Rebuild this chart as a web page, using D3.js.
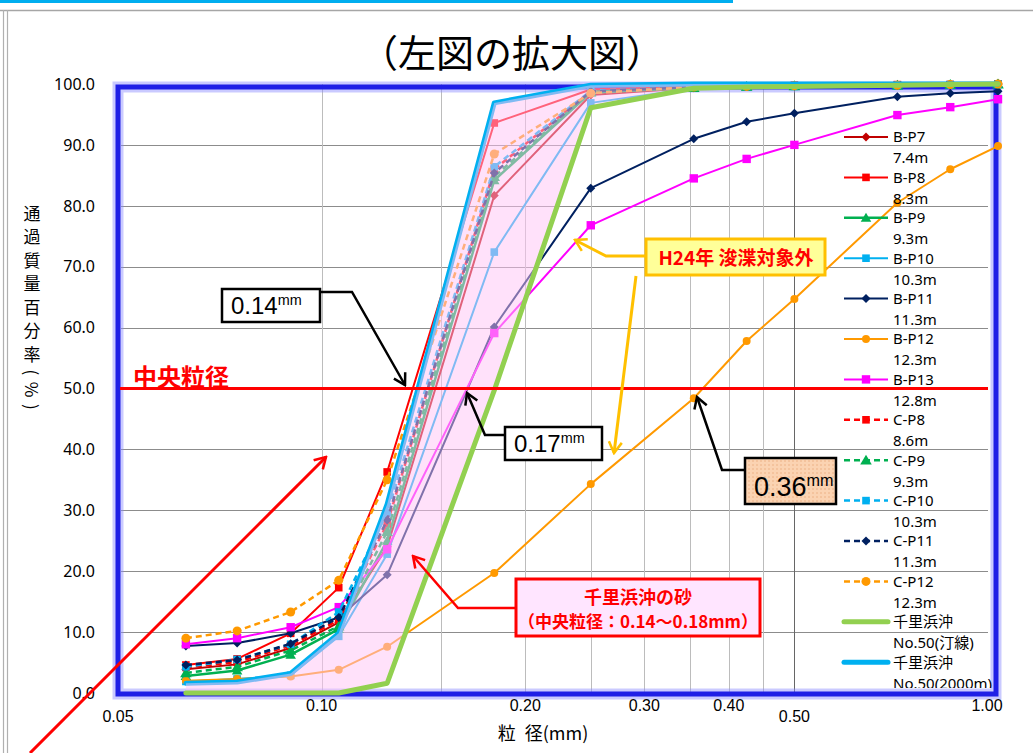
<!DOCTYPE html>
<html>
<head>
<meta charset="utf-8">
<script src="https://cdn.jsdelivr.net/npm/d3@7"></script>
<style>
  body { margin: 0; background: #fff; }
  svg { display: block; }
</style>
</head>
<body>
<svg id="chart" width="1033" height="753"></svg>
<script>
// Sieve sizes (mm) at which passing percentages were measured
const sieveSizes = [0.063, 0.075, 0.09, 0.106, 0.125, 0.18, 0.25, 0.355, 0.425, 0.5, 0.71, 0.85, 1.0];

// Percent passing by mass for each sample
const bP7  = [3.9, 4.7, 7.4, 11.6, 24.0, 81.7, 98.2, 99.4, 99.6, 99.7, 99.8, 99.9, 100];
const bP8  = [4.6, 5.6, 9.8, 17.3, 36.3, 93.6, 99.1, 99.6, 99.7, 99.8, 99.9, 99.9, 100];
const bP9  = [2.8, 3.7, 6.3, 10.5, 25.0, 84.2, 98.6, 99.4, 99.6, 99.7, 99.8, 99.9, 100];
const bP10 = [1.9, 2.3, 2.9, 9.3, 22.8, 72.4, 96.9, 99.3, 99.5, 99.6, 99.7, 99.8, 100];
const bP11 = [7.7, 8.2, 9.8, 12.4, 19.4, 60.1, 82.9, 91.0, 93.8, 95.2, 97.9, 98.5, 98.8];
const bP12 = [2.0, 2.3, 2.7, 3.8, 7.6, 19.7, 34.3, 48.4, 57.8, 64.7, 80.5, 86.0, 89.8];
const bP13 = [8.0, 9.0, 10.8, 14.1, 23.6, 59.1, 76.8, 84.5, 87.7, 90.0, 94.9, 96.2, 97.5];
const cP8  = [4.2, 5.1, 7.8, 12.0, 27.8, 86.0, 98.8, 99.5, 99.6, 99.7, 99.8, 99.9, 100];
const cP9  = [3.3, 4.3, 7.0, 11.0, 26.5, 84.8, 98.7, 99.4, 99.6, 99.7, 99.8, 99.9, 100];
const cP10 = [4.3, 5.5, 8.0, 13.3, 29.6, 86.4, 98.9, 99.5, 99.6, 99.7, 99.8, 99.9, 100];
const cP11 = [4.6, 5.4, 8.1, 12.4, 28.4, 85.4, 98.8, 99.5, 99.6, 99.7, 99.8, 99.9, 100];
const cP12 = [9.0, 10.2, 13.3, 18.5, 35.0, 88.5, 98.5, 99.5, 99.6, 99.7, 99.8, 99.9, 100];
const chiriShore = [0, 0, 0, 0, 1.6, 49.7, 96.1, 99.3, 99.5, 99.6, 99.8, 99.9, 100];
const chiri2000  = [1.6, 1.8, 3.2, 9.8, 31.0, 96.9, 99.8, 100, 100, 100, 100, 100, 100];

const seriesNames = ['B-P7','B-P8','B-P9','B-P10','B-P11','B-P12','B-P13',
                     'C-P8','C-P9','C-P10','C-P11','C-P12','千里浜沖','千里浜沖'];
const depthLabels = ['7.4m','8.3m','9.3m','10.3m','11.3m','12.3m','12.8m',
                     '8.6m','9.3m','10.3m','11.3m','12.3m','No.50(汀線)','No.50(2000m)'];

// Axis ticks
const yTicks = [0, 10, 20, 30, 40, 50, 60, 70, 80, 90, 100];
const xTickValues = [0.05, 0.1, 0.2, 0.3, 0.4, 0.5, 1.0];
const xTicksLowRow = [0.05, 0.5];
const xGridValues = [0.1, 0.15, 0.2, 0.25, 0.3, 0.35, 0.4, 0.45];
const xMajorGrid = [0.5];
const medianLevel = 50;

const svg = d3.select('#chart');
const LATIN = '"Noto Sans", "Noto Sans CJK JP", sans-serif';
const CJK = '"Noto Sans CJK JP", "Noto Sans", sans-serif';

const x = d3.scaleLog().domain([0.05, 1.0]).range([118, 998]);
const y = d3.scaleLinear().domain([0, 100]).range([693, 84]);

// ---- page frame ----
svg.append('rect').attr('x', 0).attr('y', 0).attr('width', 733).attr('height', 3).attr('fill', '#00AEEF');
svg.append('line').attr('x1', 0).attr('x2', 1033).attr('y1', 10.5).attr('y2', 10.5).attr('stroke', '#a6a6a6').attr('stroke-width', 1.5);
[3.5, 7.5].forEach(px => svg.append('line').attr('x1', px).attr('x2', px).attr('y1', 10).attr('y2', 753)
  .attr('stroke', '#b0b0b0').attr('stroke-width', 1.2));

// ---- title ----
svg.append('text').attr('x', 512).attr('y', 67).attr('text-anchor', 'middle')
  .attr('font-family', CJK).attr('font-size', 38).attr('fill', '#000')
  .text('（左図の拡大図）');

// ---- grid ----
const grid = svg.append('g');
grid.selectAll('line.h').data(yTicks.filter(v => v > 0 && v < 100)).enter().append('line')
  .attr('x1', 121).attr('x2', 988).attr('y1', d => Math.round(y(d)) + 0.5).attr('y2', d => Math.round(y(d)) + 0.5)
  .attr('stroke', '#8c8c8c').attr('stroke-width', 1);
grid.selectAll('line.v').data(xGridValues).enter().append('line')
  .attr('y1', y(100)).attr('y2', y(0)).attr('x1', d => Math.round(x(d)) + 0.5).attr('x2', d => Math.round(x(d)) + 0.5)
  .attr('stroke', '#bcbcbc').attr('stroke-width', 1);
grid.selectAll('line.vm').data(xMajorGrid).enter().append('line')
  .attr('y1', y(100)).attr('y2', y(0)).attr('x1', d => Math.round(x(d)) + 0.5).attr('x2', d => Math.round(x(d)) + 0.5)
  .attr('stroke', '#666').attr('stroke-width', 1);

// ---- plot border ----
svg.append('rect').attr('x', 118).attr('y', 87).attr('width', 878).attr('height', 607)
  .attr('fill', 'none').attr('stroke', '#8a8aff').attr('stroke-width', 11).attr('opacity', 0.45);
svg.append('rect').attr('x', 118).attr('y', 87).attr('width', 878).attr('height', 607)
  .attr('fill', 'none').attr('stroke', '#1f1fe6').attr('stroke-width', 5);

// ---- y tick labels ----
svg.append('g').selectAll('text').data(yTicks).enter().append('text')
  .attr('x', 95).attr('y', d => y(d)).attr('dy', '0.36em').attr('text-anchor', 'end')
  .attr('font-family', LATIN).attr('font-size', 16).attr('fill', '#000')
  .text(d => d3.format('.1f')(d));

// ---- x tick labels ----
svg.append('g').selectAll('text').data(xTickValues).enter().append('text')
  .attr('x', d => d === 1.0 ? x(d) - 11 : x(d))
  .attr('y', d => xTicksLowRow.includes(d) ? 722 : 711)
  .attr('text-anchor', 'middle')
  .attr('font-family', '"Liberation Sans Narrow", "Liberation Sans", sans-serif')
  .attr('font-size', 16).attr('fill', '#000')
  .text(d => d3.format('.2f')(d));

// ---- axis titles ----
svg.append('text').attr('x', 543).attr('y', 740).attr('text-anchor', 'middle')
  .attr('font-family', CJK).attr('font-size', 18).attr('fill', '#000')
  .text('粒\u2002径(mm)');
svg.append('text').attr('x', 32).attr('y', 205)
  .style('writing-mode', 'vertical-rl')
  .attr('font-family', CJK).attr('font-size', 17).attr('letter-spacing', 6.5).attr('fill', '#000')
  .text('通過質量百分率(%)');

// ---- series ----
const symbolPath = (type, r) => {
  if (type === 'diamond') return `M0,${-r}L${r},0L0,${r}L${-r},0Z`;
  if (type === 'square') return `M${-r},${-r}H${r}V${r}H${-r}Z`;
  if (type === 'triangle') return `M0,${-r}L${r * 1.05},${r * 0.8}L${-r * 1.05},${r * 0.8}Z`;
  if (type === 'circle') return `M${r},0A${r},${r} 0 1,1 ${-r},0A${r},${r} 0 1,1 ${r},0Z`;
  return null;
};

const series = [
  { values: bP7,  color: '#C00000', dash: null,  marker: 'diamond',  r: 4.5, width: 2 },
  { values: bP8,  color: '#FF0000', dash: null,  marker: 'square',   r: 3.8, width: 2 },
  { values: bP9,  color: '#00B050', dash: null,  marker: 'triangle', r: 5,   width: 2.5 },
  { values: bP10, color: '#00B0F0', dash: null,  marker: 'square',   r: 3.8, width: 2 },
  { values: bP11, color: '#002060', dash: null,  marker: 'diamond',  r: 4.5, width: 2 },
  { values: bP12, color: '#FF9900', dash: null,  marker: 'circle',   r: 4,   width: 2 },
  { values: bP13, color: '#FF00FF', dash: null,  marker: 'square',   r: 4.2, width: 2 },
  { values: cP8,  color: '#FF0000', dash: '6,4', marker: 'square',   r: 3.8, width: 2.5 },
  { values: cP9,  color: '#00B050', dash: '6,4', marker: 'triangle', r: 5.5, width: 2.5 },
  { values: cP10, color: '#00B0F0', dash: '6,4', marker: 'square',   r: 3.8, width: 2.5 },
  { values: cP11, color: '#002060', dash: '6,4', marker: 'diamond',  r: 4.5, width: 2.5 },
  { values: cP12, color: '#FF9900', dash: '6,4', marker: 'circle',   r: 4.5, width: 2.5 },
  { values: chiriShore, color: '#92D050', dash: null, marker: null, r: 0, width: 5 },
  { values: chiri2000,  color: '#00B0F0', dash: null, marker: null, r: 0, width: 5 }
].map((s, i) => Object.assign(s, { name: seriesNames[i], depth: depthLabels[i] }));

const line = d3.line().x((d, i) => x(sieveSizes[i])).y(d => y(d));

function drawSeries(g, s) {
  g.append('path').attr('d', line(s.values)).attr('fill', 'none')
    .attr('stroke', s.color).attr('stroke-width', s.width)
    .attr('stroke-dasharray', s.dash).attr('stroke-linejoin', 'round')
    .attr('stroke-linecap', s.marker ? 'butt' : 'round');
  if (s.marker) {
    g.selectAll(null).data(s.values).enter().append('path')
      .attr('transform', (d, i) => `translate(${x(sieveSizes[i])},${y(d)})`)
      .attr('d', symbolPath(s.marker, s.r)).attr('fill', s.color);
  }
}

const plot = svg.append('g');
series.forEach((s, i) => { if (i !== 12) drawSeries(plot, s); });

// Shaded band of the Chirihama offshore sand: between the 2000m and shoreline curves
const bandTop = chiri2000.map((v, i) => [x(sieveSizes[i]), y(v)]);
const bandBottom = chiriShore.map((v, i) => [x(sieveSizes[i]), y(v)]).reverse();
plot.append('path').attr('d', d3.line()(bandTop.concat(bandBottom)) + 'Z')
  .attr('fill', '#FFC4F6').attr('opacity', 0.5);
drawSeries(plot, series[12]);

// ---- median line ----
svg.append('line').attr('x1', 120).attr('x2', 988).attr('y1', y(medianLevel)).attr('y2', y(medianLevel))
  .attr('stroke', '#FF0000').attr('stroke-width', 3);
svg.append('text').attr('x', 133).attr('y', 386).attr('font-family', CJK).attr('font-weight', 'bold')
  .attr('font-size', 24).attr('fill', '#FF0000').text('中央粒径');

// ---- legend ----
const defs = svg.append('defs');
defs.append('clipPath').attr('id', 'legendClip').append('rect')
  .attr('x', 830).attr('y', 90).attr('width', 165).attr('height', 598);
const legend = svg.append('g').attr('clip-path', 'url(#legendClip)');
series.forEach((s, i) => {
  const cy = 137 + i * 40.4;
  const g = legend.append('g');
  g.append('line').attr('x1', 844).attr('x2', 888).attr('y1', cy).attr('y2', cy)
    .attr('stroke', s.color).attr('stroke-width', s.width)
    .attr('stroke-dasharray', s.dash).attr('stroke-linecap', s.marker ? 'butt' : 'round');
  if (s.marker) {
    g.append('path').attr('transform', `translate(866,${cy})`)
      .attr('d', symbolPath(s.marker, s.r)).attr('fill', s.color);
  }
  g.append('text').attr('x', 893).attr('y', cy).attr('dy', '0.36em')
    .attr('font-family', LATIN).attr('font-size', 15).attr('fill', '#000').text(s.name);
  g.append('text').attr('x', 893).attr('y', cy + 21).attr('dy', '0.36em')
    .attr('font-family', LATIN).attr('font-size', 15).attr('fill', '#000').text(s.depth);
});

// ---- annotations ----
function arrowMarker(id, color) {
  defs.append('marker').attr('id', id).attr('viewBox', '-12 -8 14 16')
    .attr('refX', 0).attr('refY', 0).attr('markerWidth', 14).attr('markerHeight', 16)
    .attr('markerUnits', 'userSpaceOnUse').attr('orient', 'auto')
    .append('path').attr('d', 'M-11,-6.5L0,0L-11,6.5').attr('fill', 'none')
    .attr('stroke', color).attr('stroke-width', 2.5).attr('stroke-linejoin', 'miter');
}
arrowMarker('arrBlack', '#000');
arrowMarker('arrRed', '#FF0000');
arrowMarker('arrGold', '#FFC000');

const dots = defs.append('pattern').attr('id', 'dots').attr('width', 4).attr('height', 4)
  .attr('patternUnits', 'userSpaceOnUse');
dots.append('rect').attr('width', 4).attr('height', 4).attr('fill', '#FBD3B2');
dots.append('circle').attr('cx', 1).attr('cy', 1).attr('r', 0.7).attr('fill', '#E9A877');

const ann = svg.append('g');

// diagonal red arrow
ann.append('path').attr('d', 'M30,753L326,457').attr('stroke', '#FF0000').attr('stroke-width', 3)
  .attr('fill', 'none').attr('marker-end', 'url(#arrRed)');

function valueBox(bx, by, bw, bh, label, size, fill, leader) {
  ann.append('path').attr('d', leader).attr('fill', 'none').attr('stroke', '#000')
    .attr('stroke-width', 2.5).attr('marker-end', 'url(#arrBlack)');
  ann.append('rect').attr('x', bx).attr('y', by).attr('width', bw).attr('height', bh)
    .attr('fill', fill).attr('stroke', '#000').attr('stroke-width', 2.5);
  const t = ann.append('text').attr('x', bx + 9).attr('y', by + bh - 8)
    .attr('font-family', '"Liberation Sans", sans-serif').attr('fill', '#000');
  t.append('tspan').attr('font-size', size).text(label);
  t.append('tspan').attr('font-size', size * 0.6).attr('dy', -size * 0.38).text('mm');
}
valueBox(222, 289, 98, 33, '0.14', 24, '#fff', 'M320,292L352,292L405,385');
valueBox(505, 427, 97, 33, '0.17', 24, '#fff', 'M505,435L485,435L467,393');
valueBox(745, 458, 91, 46, '0.36', 27, 'url(#dots)', 'M745,470L722,470L697,397');

// dredging note
ann.append('path').attr('d', 'M646,256L606,256L575,240').attr('fill', 'none').attr('stroke', '#FFC000')
  .attr('stroke-width', 3).attr('marker-end', 'url(#arrGold)');
ann.append('path').attr('d', 'M636,276L614,453').attr('fill', 'none').attr('stroke', '#FFC000')
  .attr('stroke-width', 3).attr('marker-end', 'url(#arrGold)');
ann.append('rect').attr('x', 646).attr('y', 239).attr('width', 179).attr('height', 36)
  .attr('fill', '#FFFF99').attr('stroke', '#FFC000').attr('stroke-width', 3);
ann.append('text').attr('x', 736).attr('y', 265).attr('text-anchor', 'middle')
  .attr('font-family', CJK).attr('font-weight', 'bold').attr('font-size', 19).attr('fill', '#FF0000')
  .text('H24年 浚渫対象外');

// Chirihama sand note
ann.append('path').attr('d', 'M516,608L458,608L413,556').attr('fill', 'none').attr('stroke', '#FF0000')
  .attr('stroke-width', 2.5).attr('marker-end', 'url(#arrRed)');
ann.append('rect').attr('x', 516).attr('y', 579).attr('width', 244).attr('height', 57)
  .attr('fill', '#FFE5FF').attr('stroke', '#FF0000').attr('stroke-width', 3);
ann.append('text').attr('x', 638).attr('y', 604).attr('text-anchor', 'middle')
  .attr('font-family', CJK).attr('font-weight', 'bold').attr('font-size', 18).attr('fill', '#FF0000')
  .text('千里浜沖の砂');
ann.append('text').attr('x', 638).attr('y', 628).attr('text-anchor', 'middle')
  .attr('font-family', CJK).attr('font-weight', 'bold').attr('font-size', 17).attr('fill', '#FF0000')
  .text('（中央粒径：0.14〜0.18mm）');
</script>
</body>
</html>
